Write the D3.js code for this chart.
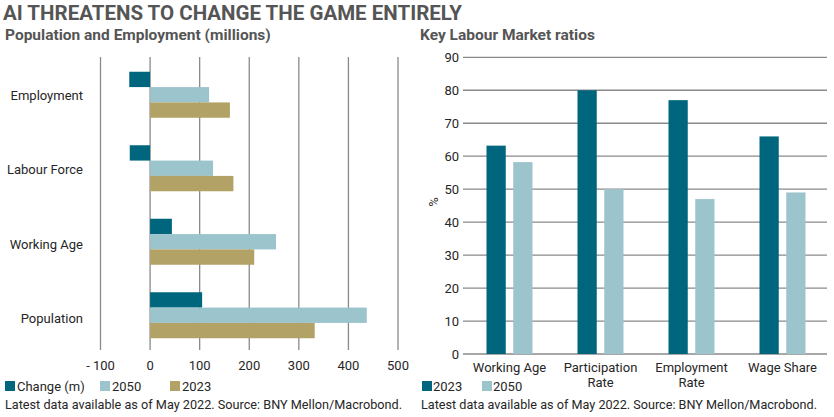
<!DOCTYPE html>
<html lang="en">
<head>
<meta charset="UTF-8"/>
<title>AI threatens</title>
<script src="https://d3js.org/d3.v7.min.js"></script>
<style>
  body { margin: 0; background: #fff; }
  text { font-family: Roboto, "Open Sans", sans-serif; }
</style>
</head>
<body>
<div id="chart"></div>
<script>
// left panel data (millions)
var popCats = ["Employment", "Labour Force", "Working Age", "Population"];
var popSeries = ["Change (m)", "2050", "2023"];
var changeVals = [-42, -41, 44, 105];
var vals2050 = [119, 127, 254, 437];
var vals2023 = [161, 168, 210, 332];
var popTicks = [-100, 0, 100, 200, 300, 400, 500];

// right panel data (%)
var ratioCats = [["Working Age"], ["Participation", "Rate"], ["Employment", "Rate"], ["Wage Share"]];
var ratioSeries = ["2023", "2050"];
var ratio2023 = [63.2, 80, 77, 66];
var ratio2050 = [58.2, 50, 47, 49];
var ratioTicks = [0, 10, 20, 30, 40, 50, 60, 70, 80, 90];

var colTeal = "#00667d", colLight = "#9cc4cd", colTan = "#b3a266";
var grid = "#8a8a8a", ink = "#262626", head = "#555";
var source = "Latest data available as of May 2022. Source: BNY Mellon/Macrobond.";

var svg = d3.select("#chart").append("svg")
    .attr("width", 834).attr("height", 417);

svg.append("text").attr("x", 3).attr("y", 20)
    .style("font-size", "20.5px").style("font-weight", "700").attr("fill", head)
    .text("AI THREATENS TO CHANGE THE GAME ENTIRELY");
svg.append("text").attr("x", 5).attr("y", 40)
    .style("font-size", "15.5px").style("font-weight", "700").attr("fill", head)
    .text("Population and Employment (millions)");
svg.append("text").attr("x", 420).attr("y", 40)
    .style("font-size", "15.5px").style("font-weight", "700").attr("fill", head)
    .text("Key Labour Market ratios");

// ---- left: horizontal grouped bars
var x = d3.scaleLinear().domain([-100, 500]).range([100.5, 398]);
var y = d3.scaleBand().domain(popCats).range([58, 352]);
var inner = d3.scaleBand().domain(popSeries).range([0, 46]);
var popData = popCats.map(function(c, i) {
  return { cat: c, vals: [changeVals[i], vals2050[i], vals2023[i]] };
});
var colsL = [colTeal, colLight, colTan];

var gL = svg.append("g");
gL.selectAll("line.grid").data(popTicks).enter().append("line")
    .attr("x1", function(d) { return x(d); }).attr("x2", function(d) { return x(d); })
    .attr("y1", 57).attr("y2", 350)
    .attr("stroke", grid).attr("stroke-width", 1.3);

var grp = gL.selectAll("g.grp").data(popData).enter().append("g")
    .attr("transform", function(d) { return "translate(0," + (y(d.cat) + (y.bandwidth() - 46) / 2) + ")"; });
grp.selectAll("rect").data(function(d) { return d.vals; }).enter().append("rect")
    .attr("x", function(d) { return x(Math.min(0, d)); })
    .attr("width", function(d) { return Math.abs(x(d) - x(0)); })
    .attr("y", function(d, i) { return inner(popSeries[i]); })
    .attr("height", inner.bandwidth())
    .attr("fill", function(d, i) { return colsL[i]; });

gL.selectAll("text.cat").data(popCats).enter().append("text")
    .attr("x", 83).attr("y", function(d, i) { return y(d) + y.bandwidth() / 2 + 5 + i; })
    .attr("text-anchor", "end").style("font-size", "13px").attr("fill", ink)
    .text(function(d) { return d; });

gL.selectAll("text.tick").data(popTicks).enter().append("text")
    .attr("x", function(d) { return x(d); }).attr("y", 370)
    .attr("text-anchor", "middle").style("font-size", "13px").attr("fill", ink)
    .text(function(d) { return d < 0 ? "- " + Math.abs(d) : d; });

var legL = [[5, "Change (m)"], [100, "2050"], [170, "2023"]];
legL.forEach(function(l, i) {
  svg.append("rect").attr("x", l[0]).attr("y", 381).attr("width", 10).attr("height", 10).attr("fill", colsL[i]);
  svg.append("text").attr("x", l[0] + 12).attr("y", 391).style("font-size", "13px").attr("fill", ink).text(l[1]);
});
svg.append("text").attr("x", 5).attr("y", 409).style("font-size", "13px").attr("fill", ink)
    .attr("textLength", 397).attr("lengthAdjust", "spacingAndGlyphs")
    .text(source);

// ---- right: vertical grouped bars
var yR = d3.scaleLinear().domain([0, 90]).range([354, 57.3]);
var xR = d3.scaleBand().domain(d3.range(ratioCats.length)).range([463, 827]);
var innerR = d3.scaleBand().domain(ratioSeries).range([0, 46]).paddingInner(0.28);
var colsR = [colTeal, colLight];

var gR = svg.append("g");
gR.selectAll("line.grid").data(ratioTicks).enter().append("line")
    .attr("x1", 463).attr("x2", 827)
    .attr("y1", function(d) { return yR(d); }).attr("y2", function(d) { return yR(d); })
    .attr("stroke", grid).attr("stroke-width", 1.3);
gR.selectAll("text.tick").data(ratioTicks).enter().append("text")
    .attr("x", 459).attr("y", function(d) { return yR(d) + 4.5; })
    .attr("text-anchor", "end").style("font-size", "13px").attr("fill", ink)
    .text(function(d) { return d; });

var ratioData = ratioCats.map(function(c, i) { return [ratio2023[i], ratio2050[i]]; });
var grpR = gR.selectAll("g.grp").data(ratioData).enter().append("g")
    .attr("transform", function(d, i) { return "translate(" + (xR(i) + (xR.bandwidth() - 46) / 2 + 1) + ",0)"; });
grpR.selectAll("rect").data(function(d) { return d; }).enter().append("rect")
    .attr("x", function(d, i) { return innerR(ratioSeries[i]); })
    .attr("width", innerR.bandwidth())
    .attr("y", function(d) { return yR(d); })
    .attr("height", function(d) { return yR(0) - yR(d); })
    .attr("fill", function(d, i) { return colsR[i]; });

gR.selectAll("text.cat").data(ratioCats).enter().append("text")
    .attr("x", function(d, i) { return xR(i) + xR.bandwidth() / 2 + 1; })
    .attr("y", 372).attr("text-anchor", "middle").style("font-size", "13px").attr("fill", ink)
    .each(function(d) {
      var t = d3.select(this);
      d.forEach(function(line, k) {
        t.append("tspan").attr("x", t.attr("x")).attr("dy", k === 0 ? 0 : 15).text(line);
      });
    });

svg.append("text").attr("transform", "translate(438,202) rotate(-90)")
    .attr("text-anchor", "middle").style("font-size", "13px").attr("fill", ink).text("%");

var legR = [[422, "2023"], [482, "2050"]];
legR.forEach(function(l, i) {
  svg.append("rect").attr("x", l[0]).attr("y", 381).attr("width", 10).attr("height", 10).attr("fill", colsR[i]);
  svg.append("text").attr("x", l[0] + 11).attr("y", 391).style("font-size", "13px").attr("fill", ink).text(l[1]);
});
svg.append("text").attr("x", 421).attr("y", 409).style("font-size", "13px").attr("fill", ink)
    .attr("textLength", 396).attr("lengthAdjust", "spacingAndGlyphs")
    .text(source);
</script>
</body>
</html>
